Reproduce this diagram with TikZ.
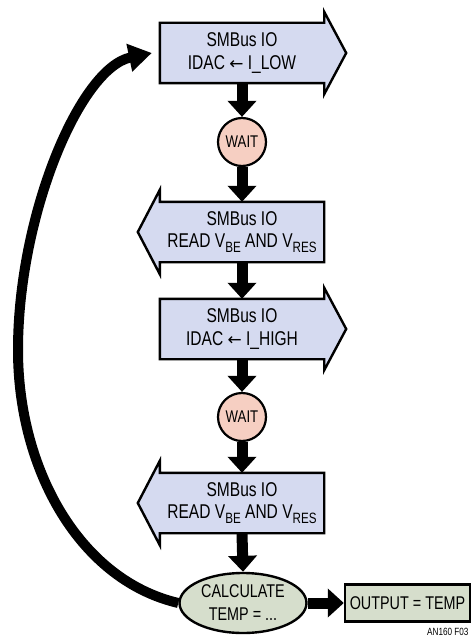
\documentclass[tikz,border=0pt]{standalone}
\usepackage{fontspec}
\setmainfont{Liberation Sans}[FakeStretch=0.78]
\newfontfamily\arrowfont{DejaVu Sans}
\usetikzlibrary{shapes.geometric,arrows.meta,backgrounds}
\definecolor{ioblue}{RGB}{213,218,240}
\definecolor{waitpink}{RGB}{246,207,194}
\definecolor{calcgreen}{RGB}{214,222,204}
\newcommand{\myunit}{1bp}
\newcommand{\boxfont}{\fontsize{20}{22.5}\selectfont}
\newcommand{\lowtext}[1]{\raisebox{-0.22em}{\fontsize{15}{15}\selectfont #1}}
\newcommand{\idacarrow}{{\arrowfont\fontsize{17}{17}\selectfont ←}}
\tikzset{
    node style io/.style={rectangle,minimum width=164*\myunit,minimum height=60*\myunit,inner sep=0pt,align=center,font=\boxfont},
    line style io/.style={draw,line width=2.4*\myunit,fill=ioblue,line join=miter},
    node style wait/.style={circle,draw,line width=2.2*\myunit,fill=waitpink,minimum size=48*\myunit,inner sep=0pt,font=\fontsize{17}{19}\selectfont},
    node style calc/.style={ellipse,draw,line width=2.4*\myunit,fill=calcgreen,minimum width=127*\myunit,minimum height=60*\myunit,inner sep=0pt,align=center,font=\fontsize{18.5}{23}\selectfont},
    node style out/.style={rectangle,draw,line width=2.4*\myunit,fill=calcgreen,minimum width=125*\myunit,minimum height=37*\myunit,inner sep=0pt,font=\fontsize{18.5}{21}\selectfont},
    arrow style flow/.style={-{Triangle[width=28*\myunit,length=16*\myunit]},line width=11*\myunit},
    arrow style loop/.style={-{Triangle[width=27*\myunit,length=23*\myunit]},line width=10*\myunit},
}

\begin{document}
\begin{tikzpicture}[x=\myunit,y=-\myunit]
\useasboundingbox (0,0) rectangle (473,638);
% les boites
\node[node style io] (io1) at (242,53) {SMBus IO\\IDAC \idacarrow{} I\_LOW};
\node[node style wait] (wait1) at (242,142) {WAIT};
\node[node style io] (io2) at (242,232) {SMBus IO\\READ V\lowtext{BE} AND V\lowtext{RES}};
\node[node style io] (io3) at (242,329) {SMBus IO\\IDAC \idacarrow{} I\_HIGH};
\node[node style wait] (wait2) at (242,417) {WAIT};
\node[node style io] (io4) at (242,503) {SMBus IO\\READ V\lowtext{BE} AND V\lowtext{RES}};
\node[node style calc] (calc) at (243,603) {CALCULATE\\TEMP = ...};
\node[node style out] (out) at (407.5,603) {OUTPUT = TEMP};
\node[anchor=east,font=\fontsize{10.5}{12}\selectfont] (fig) at (472,632) {AN160 F03};
% les contours
\begin{scope}[on background layer]
\draw[line style io] (io1.north west) -- (io1.north east) -- ([yshift=11bp]io1.north east)
  -- ([xshift=22bp]io1.east) -- ([yshift=-11bp]io1.south east) -- (io1.south east) -- (io1.south west) -- cycle;
\draw[line style io] (io2.north east) -- (io2.north west) -- ([yshift=12bp]io2.north west)
  -- ([xshift=-22bp]io2.west) -- ([yshift=-12bp]io2.south west) -- (io2.south west) -- (io2.south east) -- cycle;
\draw[line style io] (io3.north west) -- (io3.north east) -- ([yshift=11bp]io3.north east)
  -- ([xshift=22bp]io3.east) -- ([yshift=-11bp]io3.south east) -- (io3.south east) -- (io3.south west) -- cycle;
\draw[line style io] (io4.north east) -- (io4.north west) -- ([yshift=12bp]io4.north west)
  -- ([xshift=-22bp]io4.west) -- ([yshift=-12bp]io4.south west) -- (io4.south west) -- (io4.south east) -- cycle;
\end{scope}
% les fleches
\draw[arrow style flow] (io1.south) -- (wait1.north);
\draw[arrow style flow] (wait1.south) -- (io2.north);
\draw[arrow style flow] (io2.south) -- (io3.north);
\draw[arrow style flow] (io3.south) -- (wait2.north);
\draw[arrow style flow] (wait2.south) -- (io4.north);
\draw[arrow style flow] (io4.south) -- (calc.north);
\draw[arrow style flow] (calc.east) -- (out.west);
\draw[arrow style loop] (calc.west) .. controls (80,580) and (18,470) .. (18,350)
  .. controls (18,215) and (80,68) .. ([xshift=-8bp]io1.west);
\end{tikzpicture}
\end{document}
